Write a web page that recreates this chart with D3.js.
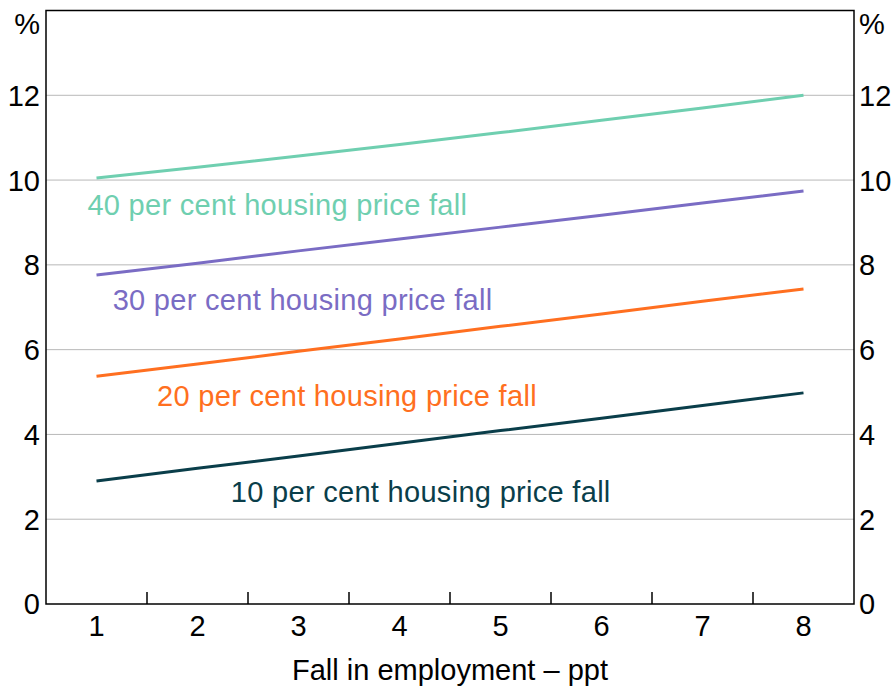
<!DOCTYPE html>
<html>
<head>
<meta charset="utf-8">
<script src="https://cdn.jsdelivr.net/npm/d3@7"></script>
<style>
  body { margin: 0; background: #fff; }
  svg text { font-family: Arial, "Liberation Sans", sans-serif; }
</style>
</head>
<body>
<div id="chart"></div>
<script>
// fall in employment (ppt)
var categories = [1, 2, 3, 4, 5, 6, 7, 8];
var yTicks = [0, 2, 4, 6, 8, 10, 12];

var seriesNames = ["40 per cent housing price fall", "30 per cent housing price fall",
                   "20 per cent housing price fall", "10 per cent housing price fall"];
var fall40 = [10.05, 10.3, 10.57, 10.84, 11.12, 11.41, 11.7, 12.0];
var fall30 = [7.76, 8.04, 8.33, 8.61, 8.89, 9.17, 9.46, 9.74];
var fall20 = [5.37, 5.66, 5.96, 6.25, 6.55, 6.84, 7.14, 7.43];
var fall10 = [2.9, 3.2, 3.49, 3.79, 4.09, 4.38, 4.68, 4.98];

var colours = ["#6fcfb0", "#7a6cc4", "#ff6f20", "#0a3e4a"];
// label anchor in data units (category, %)
var labelPos = [[0.91, 9.18], [1.16, 6.94], [1.6, 4.67], [2.33, 2.41]];

var width = 893, height = 687;
var margin = { top: 10.5, right: 39, bottom: 83, left: 46 };
var w = width - margin.left - margin.right;
var h = height - margin.top - margin.bottom;

var svg = d3.select("#chart").append("svg").attr("width", width).attr("height", height);
var g = svg.append("g").attr("transform", "translate(" + margin.left + "," + margin.top + ")");

var x = d3.scaleBand().domain(categories).range([0, w]);
var xl = d3.scaleLinear().domain([0.5, 8.5]).range([0, w]);
var y = d3.scaleLinear().domain([0, 14]).range([h, 0]);

// gridlines
g.selectAll(".grid").data(yTicks.filter(function (d) { return d > 0; })).enter().append("line")
    .attr("x1", 0).attr("x2", w)
    .attr("y1", function (d) { return y(d); }).attr("y2", function (d) { return y(d); })
    .attr("stroke", "#b8b8b8").attr("stroke-width", 1);

// tick marks between categories (pointing up)
g.selectAll(".xtick").data(categories.slice(1)).enter().append("line")
    .attr("x1", function (d) { return x(d); }).attr("x2", function (d) { return x(d); })
    .attr("y1", h).attr("y2", h - 12)
    .attr("stroke", "#000").attr("stroke-width", 1.5);

// frame
g.append("rect").attr("width", w).attr("height", h)
    .attr("fill", "none").attr("stroke", "#000").attr("stroke-width", 1.5);

// left & right y labels
var fs = 29;
g.selectAll(".yl").data(yTicks).enter().append("text")
    .attr("x", -6).attr("y", function (d) { return y(d); }).attr("dy", "0.36em")
    .attr("text-anchor", "end").attr("font-size", fs).text(function (d) { return d; });
g.selectAll(".yr").data(yTicks).enter().append("text")
    .attr("x", w + 5).attr("y", function (d) { return y(d); }).attr("dy", "0.36em")
    .attr("text-anchor", "start").attr("font-size", fs).text(function (d) { return d; });
g.append("text").attr("x", -6).attr("y", 23).attr("text-anchor", "end").attr("font-size", fs).text("%");
g.append("text").attr("x", w + 5).attr("y", 23).attr("text-anchor", "start").attr("font-size", fs).text("%");

// x labels
g.selectAll(".xl").data(categories).enter().append("text")
    .attr("x", function (d) { return x(d) + x.bandwidth() / 2; }).attr("y", h + 32)
    .attr("text-anchor", "middle").attr("font-size", fs).text(function (d) { return d; });
g.append("text").attr("x", w / 2).attr("y", h + 76).attr("text-anchor", "middle")
    .attr("font-size", fs).text("Fall in employment \u2013 ppt");

// lines
var series = [fall40, fall30, fall20, fall10];
var line = d3.line()
    .x(function (d, i) { return x(categories[i]) + x.bandwidth() / 2; })
    .y(function (d) { return y(d); });
g.selectAll(".series").data(series).enter().append("path")
    .attr("d", line).attr("fill", "none")
    .attr("stroke", function (d, i) { return colours[i]; }).attr("stroke-width", 3);

// series labels
g.selectAll(".lab").data(seriesNames).enter().append("text")
    .attr("x", function (d, i) { return xl(labelPos[i][0]); })
    .attr("y", function (d, i) { return y(labelPos[i][1]); })
    .attr("font-size", fs).attr("letter-spacing", 0.3)
    .attr("fill", function (d, i) { return colours[i]; })
    .text(function (d) { return d; });
</script>
</body>
</html>
